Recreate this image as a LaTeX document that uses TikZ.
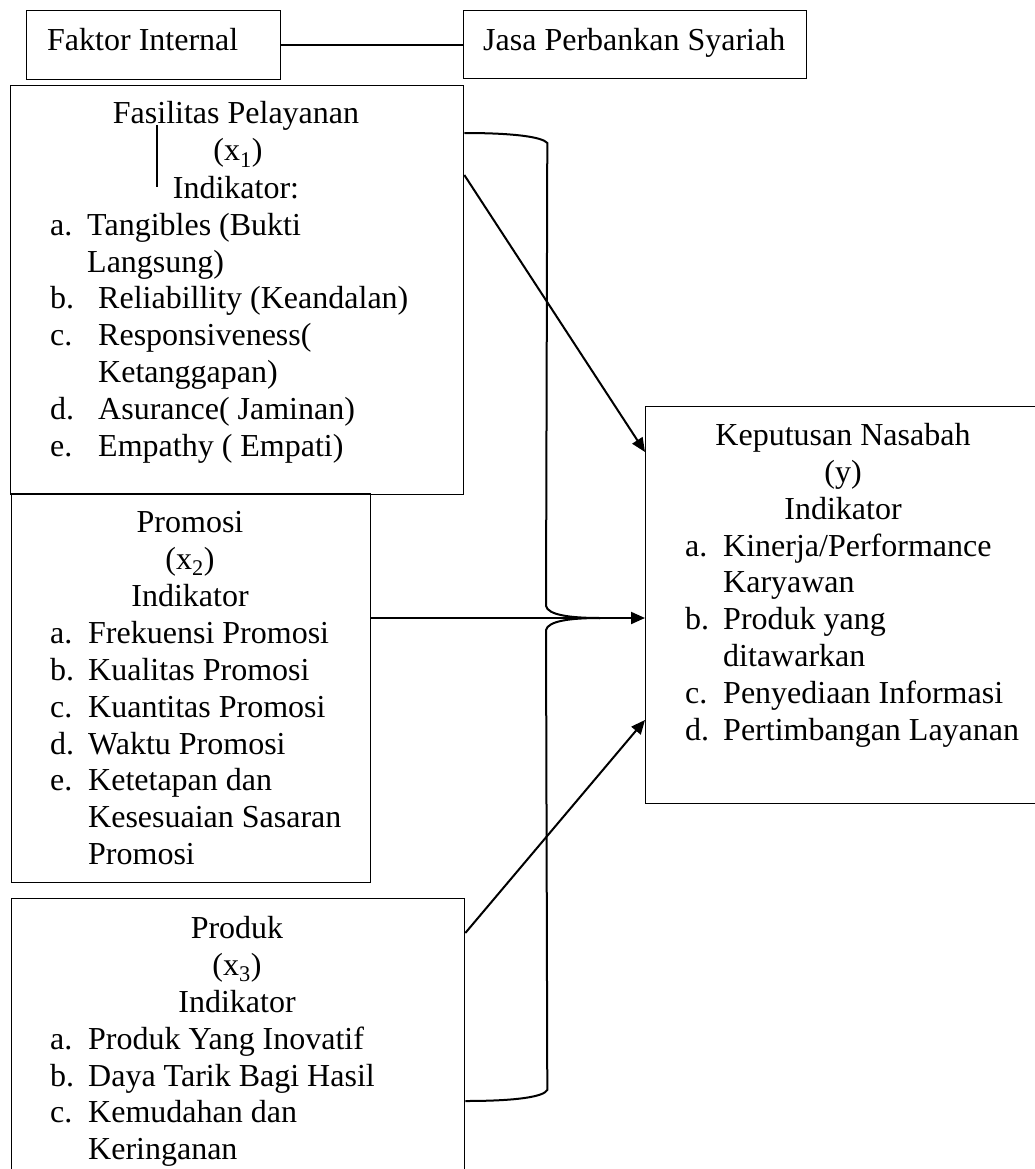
\documentclass[tikz,border=0pt]{standalone}
\usepackage{fontspec}
\setmainfont{Liberation Serif}
\usetikzlibrary{arrows.meta,calc}
\newcommand\TL[4]{\node[txt,anchor=base west] (#1) at (#2,#3) {#4};}
\newcommand\TC[4]{\node[txt,anchor=base] (#1) at (#2,#3) {#4};}
\tikzset{
  txt/.style={inner sep=0pt, font=\fontsize{32}{37}\selectfont},
  box/.style={draw, line width=1.3pt, anchor=north west, inner sep=0pt},
  conn/.style={line width=2pt},
  arr/.style={line width=2pt, -{Triangle[length=14pt,width=12pt]}},
}
\begin{document}
\begin{tikzpicture}[x=1pt,y=-1pt]
\useasboundingbox (0,0) rectangle (1034,1169);
% boxes
\node[box, minimum width=254pt, minimum height=69pt] (fi) at (26,10) {};
\node[box, minimum width=343pt, minimum height=68pt] (jasa) at (463,10) {};
\node[box, minimum width=453pt, minimum height=409pt] (fas) at (10,85) {};
\node[box, minimum width=359pt, minimum height=389pt] (pro) at (11,493) {};
\node[box, minimum width=453pt, minimum height=290pt] (prd) at (11,898) {};
\node[box, minimum width=400pt, minimum height=397pt] (kep) at (645,406) {};
% top texts
\TL{tfi}{47}{51}{Faktor Internal}
\TL{tjasa}{483}{51}{Jasa Perbankan Syariah}
\draw[line width=1.3pt] (fi.east) -- (fi.east -| jasa.west);
% Fasilitas
\TC{f1}{236}{124}{Fasilitas Pelayanan}
\TC{f2}{238}{161}{(x\textsubscript{1})}
\TC{f3}{236}{198}{Indikator:}
\TL{fa}{50}{235}{a.}\TL{fat}{87}{235}{Tangibles (Bukti}
\TL{fat2}{87}{272}{Langsung)}
\TL{fb}{50}{308}{b.}\TL{fbt}{98}{308}{Reliabillity (Keandalan)}
\TL{fc}{50}{345}{c.}\TL{fct}{98}{345}{Responsiveness(}
\TL{fct2}{98}{382}{Ketanggapan)}
\TL{fd}{50}{419}{d.}\TL{fdt}{98}{419}{Asurance( Jaminan)}
\TL{fe}{50}{456}{e.}\TL{fet}{98}{456}{Empathy ( Empati)}
\draw[line width=1.2pt] ($(fas.north west)+(147,40)$) -- ++(0,62);
% Promosi
\TC{p1}{190}{532}{Promosi}
\TC{p2}{190}{569}{(x\textsubscript{2})}
\TC{p3}{190}{606}{Indikator}
\TL{pa}{50}{643}{a.}\TL{pat}{88}{643}{Frekuensi Promosi}
\TL{pb}{50}{680}{b.}\TL{pbt}{88}{680}{Kualitas Promosi}
\TL{pc}{50}{717}{c.}\TL{pct}{88}{717}{Kuantitas Promosi}
\TL{pd}{50}{754}{d.}\TL{pdt}{88}{754}{Waktu Promosi}
\TL{pe}{50}{790}{e.}\TL{pet}{88}{790}{Ketetapan dan}
\TL{pet2}{88}{827}{Kesesuaian Sasaran}
\TL{pet3}{88}{864}{Promosi}
% Produk
\TC{r1}{237}{938}{Produk}
\TC{r2}{237}{975}{(x\textsubscript{3})}
\TC{r3}{237}{1012}{Indikator}
\TL{ra}{50}{1049}{a.}\TL{rat}{88}{1049}{Produk Yang Inovatif}
\TL{rb}{50}{1086}{b.}\TL{rbt}{88}{1086}{Daya Tarik Bagi Hasil}
\TL{rc}{50}{1122}{c.}\TL{rct}{88}{1122}{Kemudahan dan}
\TL{rct2}{88}{1159}{Keringanan}
% Keputusan
\TC{k1}{843}{445}{Keputusan Nasabah}
\TC{k2}{843}{482}{(y)}
\TC{k3}{843}{519}{Indikator}
\TL{ka}{685}{556}{a.}\TL{kat}{723}{556}{Kinerja/Performance}
\TL{kat2}{723}{592}{Karyawan}
\TL{kb}{685}{629}{b.}\TL{kbt}{723}{629}{Produk yang}
\TL{kbt2}{723}{666}{ditawarkan}
\TL{kc}{685}{703}{c.}\TL{kct}{723}{703}{Penyediaan Informasi}
\TL{kd}{685}{740}{d.}\TL{kdt}{723}{740}{Pertimbangan Layanan}
% bracket
\coordinate (bt) at ($(fas.north east)+(0,48)$);
\coordinate (bb) at ($(prd.north east)+(0,203)$);
\coordinate (mg) at ($(kep.north west)+(-45,212)$);
\draw[conn] (bt) .. controls ($(bt)+(50,0)$) and ($(bt)+(78,4)$) .. ($(bt)+(83,10)$)
  -- ($(mg)+(-54,-12)$) .. controls ($(mg)+(-52,-3)$) and ($(mg)+(-30,0)$) .. (mg);
\draw[conn] (bb) .. controls ($(bb)+(50,0)$) and ($(bb)+(78,-4)$) .. ($(bb)+(82,-11)$)
  -- ($(mg)+(-54,12)$) .. controls ($(mg)+(-52,3)$) and ($(mg)+(-30,0)$) .. (mg);
% arrows
\draw[arr] ($(fas.north east)+(0,90)$) -- ($(kep.north west)+(0,46)$);
\draw[arr] ($(pro.north east)+(0,125)$) -- ($(kep.north west)+(0,212)$);
\draw[arr] ($(prd.north east)+(0,35)$) -- ($(kep.north west)+(0,314)$);
\end{tikzpicture}
\end{document}
